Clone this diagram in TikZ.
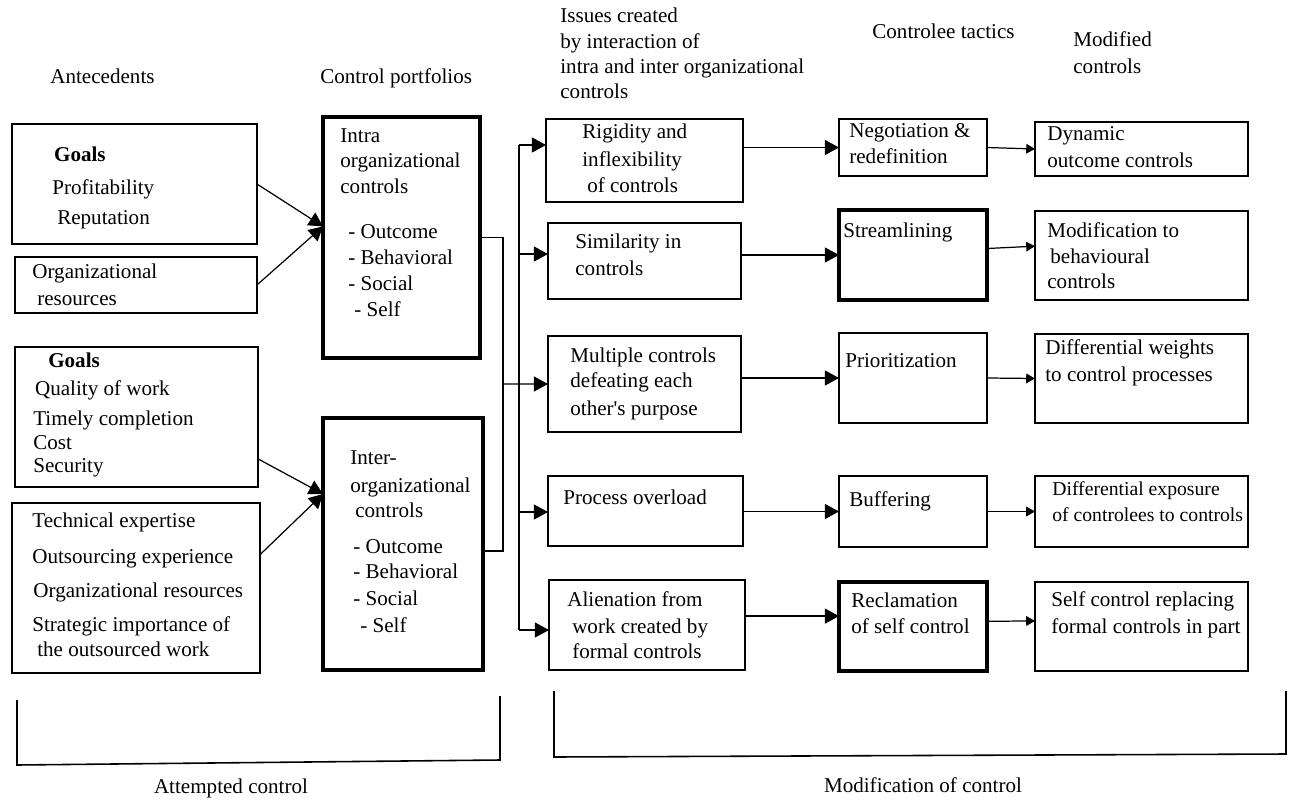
\documentclass[tikz,border=0pt]{standalone}
\usepackage{fontspec}
\setmainfont{Liberation Serif}
\usetikzlibrary{arrows.meta}

\begin{document}
\begin{tikzpicture}[x=0.02cm,y=-0.02cm,>={Triangle[length=8pt,width=8.5pt]},
  font=\fontsize{12}{14.7}\selectfont,
  box/.style={draw,line width=0.8pt,anchor=north west,inner sep=0pt,outer sep=0pt},
  heavybox/.style={box,line width=1.9pt},
  modbox/.style={box,line width=1.1pt},
  txt/.style={anchor=north west,inner sep=0pt,align=left},
  link/.style={line width=0.7pt},
  smallhead/.style={-{Triangle[length=5pt,width=5.5pt]}}]
\useasboundingbox (0,0) rectangle (1296,802);

\node[txt] (hant) at (50,69) {Antecedents};
\node[txt] (hport) at (320,68) {Control portfolios};
\node[txt] (hiss) at (560,8) {Issues created\\[-0.2pt] by interaction of\\[-0.6pt] intra and inter organizational\\[-0.6pt] controls};
\node[txt] (htac) at (872,24) {Controlee tactics};
\node[txt] (hmod) at (1073,31) {Modified\\[0.6pt] controls};

\node[box,minimum width=4.90cm,minimum height=2.40cm] (g1) at (12,124) {};
\node[txt] at (52,147) {\hspace*{1pt}\textbf{Goals}\\[4pt] Profitability\\[2.3pt] \hspace*{2.8pt}Reputation};
\node[box,minimum width=4.84cm,minimum height=1.12cm] (res1) at (15,257) {};
\node[txt] at (32,264) {Organizational\\[0.6pt] \hspace*{2.8pt}resources};
\node[box,minimum width=4.86cm,minimum height=2.80cm] (g2) at (15,347) {};
\node[txt] at (33,353) {\hspace*{8.5pt}\textbf{Goals}\\[1.1pt] \hspace*{1pt}Quality of work\\[2.3pt] Timely completion\\[-1.1pt] Cost\\[-1.7pt] Security};
\node[box,minimum width=4.96cm,minimum height=3.40cm] (tech) at (12,503) {};
\node[txt] at (32,513) {Technical expertise\\[5.7pt] Outsourcing experience\\[4.5pt] \hspace*{0.6pt}Organizational resources\\[4.5pt] Strategic importance of\\[-0.6pt] \hspace*{2.8pt}the outsourced work};

\node[heavybox,minimum width=3.14cm,minimum height=4.82cm] (intra) at (323,117) {};
\node[txt] at (340,128) {Intra\\ organizational\\ controls\\[10.8pt] \hspace*{4.5pt}- Outcome\\ \hspace*{4.5pt}- Behavioral\\ \hspace*{4.5pt}- Social\\ \hspace*{8pt}- Self};
\node[heavybox,minimum width=3.20cm,minimum height=5.04cm] (inter) at (323,418) {};
\node[txt] at (350,450) {Inter-\\[1.7pt] organizational\\[-0.6pt] \hspace*{2.8pt}controls\\[5.7pt] \hspace*{1.7pt}- Outcome\\[-0.6pt] \hspace*{1.7pt}- Behavioral\\[0.6pt] \hspace*{1.7pt}- Social\\[0.6pt] \hspace*{5.7pt}- Self};

\node[box,minimum width=3.94cm,minimum height=1.66cm] (rig) at (546,119) {};
\node[txt] at (582,124) {Rigidity and\\[1.1pt] inflexibility\\ \hspace*{2.8pt}of controls};
\node[box,minimum width=3.86cm,minimum height=1.52cm] (sim) at (548,223) {};
\node[txt] at (575,234) {Similarity in\\[0.6pt] controls};
\node[box,minimum width=3.86cm,minimum height=1.92cm] (mult) at (548,336) {};
\node[txt] at (570,348) {Multiple controls\\[-0.6pt] defeating each\\[1.1pt] other\textquotesingle s purpose};
\node[box,minimum width=3.90cm,minimum height=1.40cm] (proc) at (548,476) {};
\node[txt] at (563,490) {Process overload};
\node[box,minimum width=3.92cm,minimum height=1.80cm] (alien) at (549,580) {};
\node[txt] at (567,591) {Alienation from\\[0.6pt] \hspace*{2.8pt}work created by\\ \hspace*{2.8pt}formal controls};

\node[box,minimum width=2.96cm,minimum height=1.14cm] (neg) at (839,119) {};
\node[txt] at (849,123) {Negotiation \&\\ redefinition};
\node[heavybox,minimum width=2.96cm,minimum height=1.80cm] (stream) at (839,210) {};
\node[txt] at (843,223) {Streamlining};
\node[box,minimum width=2.96cm,minimum height=1.80cm] (prio) at (839,333) {};
\node[txt] at (845,353) {Prioritization};
\node[box,minimum width=2.96cm,minimum height=1.42cm] (buff) at (839,476) {};
\node[txt] at (849,491) {Buffering};
\node[heavybox,minimum width=2.96cm,minimum height=1.78cm] (recl) at (839,582) {};
\node[txt] at (851,593) {Reclamation\\ of self control};

\node[modbox,minimum width=4.26cm,minimum height=1.08cm] (dyn) at (1035,122) {};
\node[txt] at (1047,126) {Dynamic\\[0.6pt] outcome controls};
\node[modbox,minimum width=4.26cm,minimum height=1.78cm] (modb) at (1035,211) {};
\node[txt] at (1047,222) {Modification to\\ \hspace*{1.7pt}behavioural\\ controls};
\node[modbox,minimum width=4.26cm,minimum height=1.78cm] (dw) at (1035,334) {};
\node[txt] at (1045,339) {Differential weights\\[1.1pt] to control processes};
\node[modbox,minimum width=4.26cm,minimum height=1.42cm] (de) at (1035,476) {};
\node[txt,font=\fontsize{11.2}{14.7}\selectfont] at (1052,481) {Differential exposure\\ of controlees to controls};
\node[modbox,minimum width=4.26cm,minimum height=1.78cm] (sc) at (1035,582) {};
\node[txt] at (1051,591) {Self control replacing\\[0.6pt] formal controls in part};

\draw[link,->] (g1.east) -- (intra.172);
\draw[link,->] (res1.east) -- (intra.172);
\draw[link,->] (g2.-19) -- (inter.148);
\draw[link,->] (tech.15) -- (inter.148);

\coordinate (jn) at (503,384);
\draw[link] (intra.east) -| (jn) |- (inter.-5);
\draw[link,->] (jn) -- (mult.west);

\coordinate (bt) at (519,145);
\coordinate (bs) at (519,254);
\coordinate (bp) at (519,512);
\coordinate (ba) at (519,630);
\draw[link] (bt) -- (ba);
\draw[link,->] (bt) -- (rig.west |- bt);
\draw[link,->] (bs) -- (sim.west |- bs);
\draw[link,->] (bp) -- (proc.west |- bp);
\draw[link,->] (ba) -- (alien.west |- ba);

\draw[link,->] (rig.east |- neg.west) -- (neg.west);
\draw[link,->] (sim.east |- stream.west) -- (stream.west);
\draw[link,->] (mult.east |- prio.west) -- (prio.west);
\draw[link,->] (proc.east |- buff.west) -- (buff.west);
\draw[link,->] (alien.east |- recl.172) -- (recl.172);

\draw[link,smallhead] (neg.east) -- (dyn.west);
\draw[link,smallhead] (stream.5) -- (modb.175);
\draw[link,smallhead] (prio.east) -- (dw.west);
\draw[link,smallhead] (buff.east) -- (de.west);
\draw[link,smallhead] (recl.4) -- (sc.177);

\draw[line width=0.9pt] (17,700) -- (17,765) -- (500,760) -- (500,696);
\draw[line width=0.9pt] (554,691) -- (554,757) -- (1286,754) -- (1286,691);
\node (att) at (231,788) {Attempted control};
\node (modc) at (923,785) {Modification of control};
\end{tikzpicture}
\end{document}
